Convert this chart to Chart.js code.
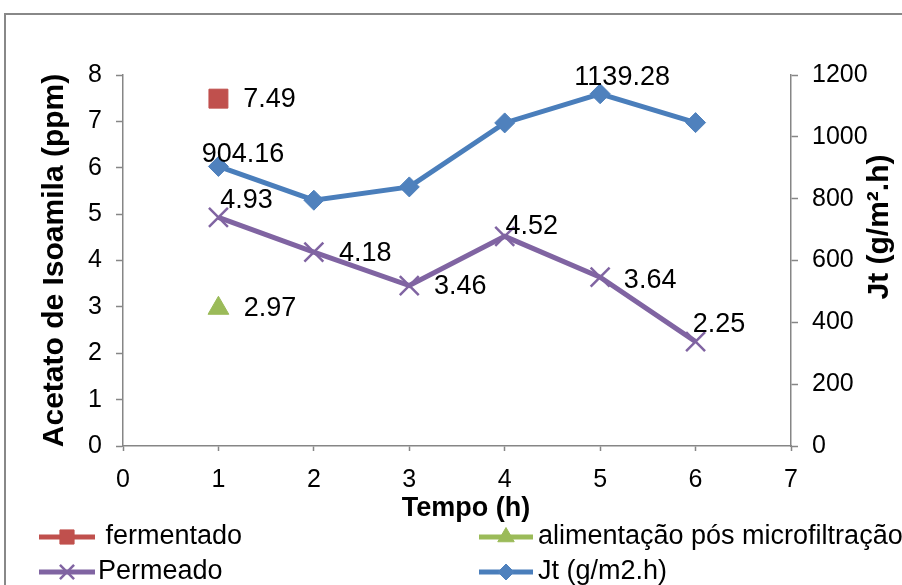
<!DOCTYPE html>
<html>
<head>
<meta charset="utf-8">
<script src="https://cdn.jsdelivr.net/npm/chart.js@4/dist/chart.umd.min.js"></script>
<style>
  html, body { margin: 0; padding: 0; background: #fff; }
  #wrap { position: relative; width: 902px; height: 585px; }
</style>
</head>
<body>
<div id="wrap"><canvas id="c"></canvas></div>
<script>
// Tempo (h) e valores medidos
const hours = [1, 2, 3, 4, 5, 6];
const fermentadoHour = [1];
const fermentado = [7.49];
const alimentacaoHour = [1];
const alimentacao = [2.97];
const permeado = [4.93, 4.18, 3.46, 4.52, 3.64, 2.25];
const fluxoJt = [904.16, 795, 838, 1045, 1139.28, 1046];

// Rótulos dos eixos
const xTicks = [0, 1, 2, 3, 4, 5, 6, 7];
const leftTicks = [0, 1, 2, 3, 4, 5, 6, 7, 8];
const rightTicks = [0, 200, 400, 600, 800, 1000, 1200];

const seriesNames = [' fermentado', 'alimentação pós microfiltração', 'Permeado', 'Jt (g/m2.h)'];
const leftTitle = 'Acetato de Isoamila (ppm)';
const rightTitle = 'Jt (g/m².h)';
const xTitle = 'Tempo (h)';

// Jt: só o primeiro e o pico recebem rótulo
const jtLabelled = [true, false, false, false, true, false];

const FONT = '"Liberation Sans", Arial, Helvetica, sans-serif';
const AXIS = '#868686';
const RED = '#C0504D', GREEN = '#9BBB59', PURPLE = '#8064A2', BLUE = '#4A7EBB', BLUE_M = '#4F81BD';

const pts = (xs, ys) => ys.map((v, i) => ({ x: xs[i], y: v }));

// deslocamento dos rótulos de valor em relação ao marcador [dx, dy]
const labelOffsets = [
  [[51, 1]],
  [[51.5, 0]],
  [[28, -17], [51.5, 1], [51, 1.5], [27, -10], [50, 3], [23.5, -17.5]],
  [[24.5, -12], null, null, null, [22, -16.5], null]
];

const frame = {
  id: 'frame',
  beforeDraw(chart) {
    const ctx = chart.ctx;
    ctx.save();
    ctx.fillStyle = '#fff';
    ctx.fillRect(0, 0, chart.width, chart.height);
    ctx.strokeStyle = '#888';
    ctx.lineWidth = 2;
    ctx.strokeRect(5, 14, chart.width + 20, chart.height + 20);
    ctx.restore();
  }
};

const valueLabels = {
  id: 'valueLabels',
  afterDatasetsDraw(chart) {
    const ctx = chart.ctx;
    ctx.save();
    ctx.font = '27px ' + FONT;
    ctx.fillStyle = '#000';
    ctx.textAlign = 'center';
    ctx.textBaseline = 'middle';
    chart.data.datasets.forEach((ds, i) => {
      const meta = chart.getDatasetMeta(i);
      meta.data.forEach((el, j) => {
        const off = labelOffsets[i][j];
        if (!off) return;
        if (i === 3 && !jtLabelled[j]) return;
        ctx.fillText(String(ds.data[j].y), el.x + off[0], el.y + off[1]);
      });
    });
    ctx.restore();
  }
};

const legendSlots = [
  { x0: 39, x1: 95, tx: 98, y: 537, r: 10 },
  { x0: 479, x1: 533, tx: 538, y: 537, r: 9.5 },
  { x0: 39, x1: 95, tx: 98, y: 572, r: 10 },
  { x0: 479, x1: 533, tx: 538, y: 572, r: 8 }
];

const legendBox = {
  id: 'legendBox',
  afterDraw(chart) {
    const ctx = chart.ctx;
    ctx.save();
    chart.data.datasets.forEach((ds, i) => {
      const s = legendSlots[i];
      ctx.strokeStyle = ds.borderColor;
      ctx.lineWidth = 5;
      ctx.beginPath();
      ctx.moveTo(s.x0, s.y);
      ctx.lineTo(s.x1, s.y);
      ctx.stroke();
      ctx.fillStyle = ds.pointBackgroundColor || ds.backgroundColor;
      ctx.strokeStyle = ds.pointBorderColor || ds.borderColor;
      ctx.lineWidth = ds.pointBorderWidth || 1;
      Chart.helpers.drawPoint(ctx, { pointStyle: ds.pointStyle, rotation: 0, radius: s.r, borderWidth: ds.pointBorderWidth || 1 }, (s.x0 + s.x1) / 2, s.y);
      ctx.fillStyle = '#000';
      ctx.font = '27px ' + FONT;
      ctx.textAlign = 'left';
      ctx.textBaseline = 'middle';
      ctx.fillText(ds.label, s.tx, s.y);
    });
    ctx.fillStyle = '#000';
    ctx.textAlign = 'center';
    ctx.textBaseline = 'middle';
    // título do eixo x
    ctx.font = 'bold 27px ' + FONT;
    ctx.fillText(xTitle, 466, 509);
    // título do eixo secundário, lido de baixo para cima
    ctx.translate(880, 227);
    ctx.rotate(-Math.PI / 2);
    ctx.font = 'bold 30px ' + FONT;
    ctx.fillText(rightTitle, 0, 0);
    ctx.restore();
  }
};

const tickFont = { family: FONT, size: 25 };

new Chart(document.getElementById('c'), {
  type: 'scatter',
  data: {
    datasets: [
      {
        label: seriesNames[0], data: pts(fermentadoHour, fermentado), yAxisID: 'y',
        borderColor: RED, backgroundColor: RED, pointBackgroundColor: RED, pointBorderColor: RED,
        pointStyle: 'rect', pointRadius: 13.4, pointBorderWidth: 1, showLine: false
      },
      {
        label: seriesNames[1], data: pts(alimentacaoHour, alimentacao), yAxisID: 'y',
        borderColor: GREEN, backgroundColor: GREEN, pointBackgroundColor: GREEN, pointBorderColor: GREEN,
        pointStyle: 'triangle', pointRadius: 12, pointBorderWidth: 1, showLine: false
      },
      {
        label: seriesNames[2], data: pts(hours, permeado), yAxisID: 'y',
        borderColor: PURPLE, backgroundColor: PURPLE, pointBackgroundColor: PURPLE, pointBorderColor: PURPLE,
        pointStyle: 'crossRot', pointRadius: 13.4, pointBorderWidth: 2.5, borderWidth: 5, showLine: true
      },
      {
        label: seriesNames[3], data: pts(hours, fluxoJt), yAxisID: 'y1',
        borderColor: BLUE, backgroundColor: BLUE_M, pointBackgroundColor: BLUE_M, pointBorderColor: BLUE_M,
        pointStyle: 'rectRot', pointRadius: 10, pointBorderWidth: 1, borderWidth: 5, showLine: true
      }
    ]
  },
  options: {
    responsive: true,
    maintainAspectRatio: false,
    animation: false,
    events: [],
    layout: { padding: { left: 20, right: 0, top: 75, bottom: 60 } },
    plugins: { legend: { display: false }, tooltip: { enabled: false } },
    scales: {
      x: {
        type: 'linear', min: 0, max: 7,
        afterBuildTicks: s => { s.ticks = xTicks.map(v => ({ value: v })); },
        afterFit: s => { s.height = 79; },
        border: { display: true, color: AXIS, width: 1.5 },
        grid: { drawOnChartArea: false, drawTicks: true, tickLength: 5, tickColor: AXIS, tickWidth: 1.5 },
        ticks: { font: tickFont, color: '#000', padding: 14, maxRotation: 0, callback: v => String(v) }
      },
      y: {
        type: 'linear', position: 'left', min: 0, max: 8,
        afterBuildTicks: s => { s.ticks = leftTicks.map(v => ({ value: v })); },
        afterFit: s => { s.width = 103; },
        border: { display: true, color: AXIS, width: 1.5 },
        grid: { drawOnChartArea: false, drawTicks: true, tickLength: 7, tickColor: AXIS, tickWidth: 1.5 },
        ticks: { font: tickFont, color: '#000', padding: 14, callback: v => String(v) },
        title: { display: true, text: leftTitle, color: '#000', font: { family: FONT, size: 30, weight: 'bold' }, padding: { top: 17, bottom: 0 } }
      },
      y1: {
        type: 'linear', position: 'right', min: 0, max: 1200,
        afterBuildTicks: s => { s.ticks = rightTicks.map(v => ({ value: v })); },
        afterFit: s => { s.width = 111; },
        border: { display: true, color: AXIS, width: 1.5 },
        grid: { drawOnChartArea: false, drawTicks: true, tickLength: 7, tickColor: AXIS, tickWidth: 1.5 },
        ticks: { font: tickFont, color: '#000', padding: 14, callback: v => String(v) }
      }
    }
  },
  plugins: [frame, valueLabels, legendBox]
});
</script>
</body>
</html>
